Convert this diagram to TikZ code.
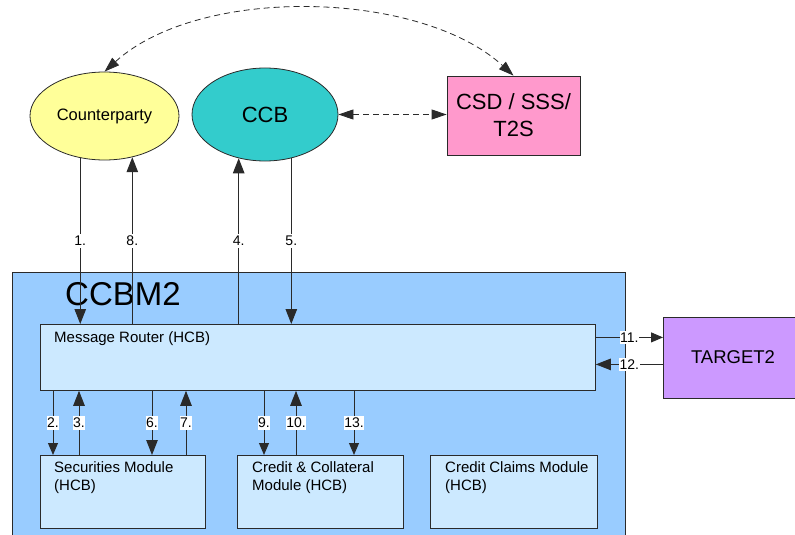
\documentclass[tikz,border=0pt]{standalone}
\usepackage{fontspec}
\setmainfont{Liberation Sans}
\usetikzlibrary{shapes.geometric,arrows.meta}
\definecolor{cpyel}{HTML}{FFFF99}
\definecolor{ccbteal}{HTML}{33CCCC}
\definecolor{csdpink}{HTML}{FF99CC}
\definecolor{ccbmblue}{HTML}{99CCFF}
\definecolor{modblue}{HTML}{CCE9FF}
\definecolor{tgtpurple}{HTML}{CC99FF}
\definecolor{linegray}{HTML}{2A2A2A}
\begin{document}
\begin{tikzpicture}[x=1pt,y=-1pt,
  ell/.style={ellipse, draw=linegray, line width=0.8pt, inner sep=0},
  box/.style={rectangle, draw=linegray, line width=0.8pt, fill=modblue, inner sep=0, anchor=north west},
  frame/.style={draw=linegray, line width=0.8pt},
  arr/.style={-{Triangle[length=15pt,width=11.5pt]}, line width=1pt, draw=linegray},
  sarr/.style={-{Triangle[length=12pt,width=10pt]}, line width=1pt, draw=linegray},
  darr/.style={{Triangle[length=15pt,width=10pt]}-{Triangle[length=15pt,width=10pt]}, dash pattern=on 6pt off 4pt, line width=0.8pt, draw=linegray},
  num/.style={fill=white, inner xsep=0.6pt, inner ysep=2pt, font=\fontsize{14}{16}\selectfont},
  txt/.style={inner sep=0, anchor=north west, align=left, font=\fontsize{15}{18}\selectfont}
  ]
\useasboundingbox (0,0) rectangle (795,535);

% outer actors
\node[ell, fill=cpyel, minimum width=149pt, minimum height=88pt, font=\fontsize{16.5}{19}\selectfont] (cp) at (104.5,116) {Counterparty};
\node[ell, fill=ccbteal, minimum width=146pt, minimum height=93pt, font=\fontsize{22}{26}\selectfont] (ccb) at (265,114.5) {CCB};
\node[rectangle, draw=linegray, line width=0.8pt, fill=csdpink, minimum width=133pt, minimum height=79pt, align=center, inner sep=0, font=\fontsize{22}{27}\selectfont] (csd) at (513.5,115.5) {CSD / SSS/\\T2S};

% CCBM2 container
\node[fill=ccbmblue, minimum width=613pt, minimum height=263pt, anchor=north west, inner sep=0, outer sep=0] (ccbm) at (12,272) {};
\draw[frame] (ccbm.south west) -- (ccbm.north west) -- (ccbm.north east) -- (ccbm.south east);
\node[anchor=base west, inner sep=0, font=\fontsize{33}{36}\selectfont] (ccbmlbl) at (65,305) {CCBM2};

% inner modules
\node[box, minimum width=555pt, minimum height=66pt] (mr) at (40,324) {};
\node[inner sep=0, anchor=base west, font=\fontsize{15}{18}\selectfont] (mrlbl) at (54,342) {Message Router (HCB)};
\node[box, minimum width=165pt, minimum height=73pt] (sm) at (40,455) {};
\node[txt] (smlbl) at (54,461) {Securities Module\\(HCB)};
\node[box, minimum width=166pt, minimum height=73pt] (ccm) at (237,455) {};
\node[txt] (ccmlbl) at (252,461) {Credit \& Collateral\\Module (HCB)};
\node[box, minimum width=167pt, minimum height=73pt] (ccl) at (430,455) {};
\node[txt] (ccllbl) at (445,461) {Credit Claims Module\\(HCB)};

% TARGET2
\node[fill=tgtpurple, minimum width=132pt, minimum height=81pt, anchor=north west, inner sep=0, outer sep=0] (t2) at (663,317) {};
\draw[frame] (t2.north east) -- (t2.north west) -- (t2.south west) -- (t2.south east);
\node[font=\fontsize{18.5}{22}\selectfont, inner sep=0] (t2lbl) at (733,357.5) {TARGET2};

% dashed relations
\draw[darr] (cp.north) .. controls (200,-15) and (420,-10) .. (csd.north);
\draw[darr] (ccb.east) -- (ccb.east -| csd.west);

% top arrows
\draw[arr] (cp.240) -- (cp.240 |- mr.north) node[num, midway] {1.};
\draw[arr] (cp.304 |- mr.north) -- (cp.304) node[num, midway] {8.};
\draw[arr] (ccb.239 |- mr.north) -- (ccb.239) node[num, midway] {4.};
\draw[arr] (ccb.301) -- (ccb.301 |- mr.north) node[num, midway] {5.};

% lower arrows
\coordinate (a2) at ([xshift=13pt]sm.north west);
\coordinate (a3) at ([xshift=39pt]sm.north west);
\coordinate (a6) at ([xshift=112pt]sm.north west);
\coordinate (a7) at ([xshift=146pt]sm.north west);
\coordinate (a9) at ([xshift=27pt]ccm.north west);
\coordinate (a10) at ([xshift=59pt]ccm.north west);
\coordinate (a13) at ([xshift=117pt]ccm.north west);
\draw[sarr] (a2 |- mr.south) -- (a2) node[num, midway] {2.};
\draw[arr] (a3) -- (a3 |- mr.south) node[num, midway] {3.};
\draw[arr] (a6 |- mr.south) -- (a6) node[num, midway] {6.};
\draw[arr] (a7) -- (a7 |- mr.south) node[num, midway] {7.};
\draw[sarr] (a9 |- mr.south) -- (a9) node[num, midway] {9.};
\draw[arr] (a10) -- (a10 |- mr.south) node[num, midway] {10.};
\draw[sarr] (a13 |- mr.south) -- (a13) node[num, midway] {13.};

% TARGET2 arrows
\coordinate (a11) at ([yshift=20pt]mr.east);
\coordinate (a12) at ([yshift=-7pt]mr.east);
\draw[sarr] (a11) -- (a11 -| t2.west) node[num, midway] {11.};
\draw[arr] (a12 -| t2.west) -- (a12) node[num, midway] {12.};
\end{tikzpicture}
\end{document}
